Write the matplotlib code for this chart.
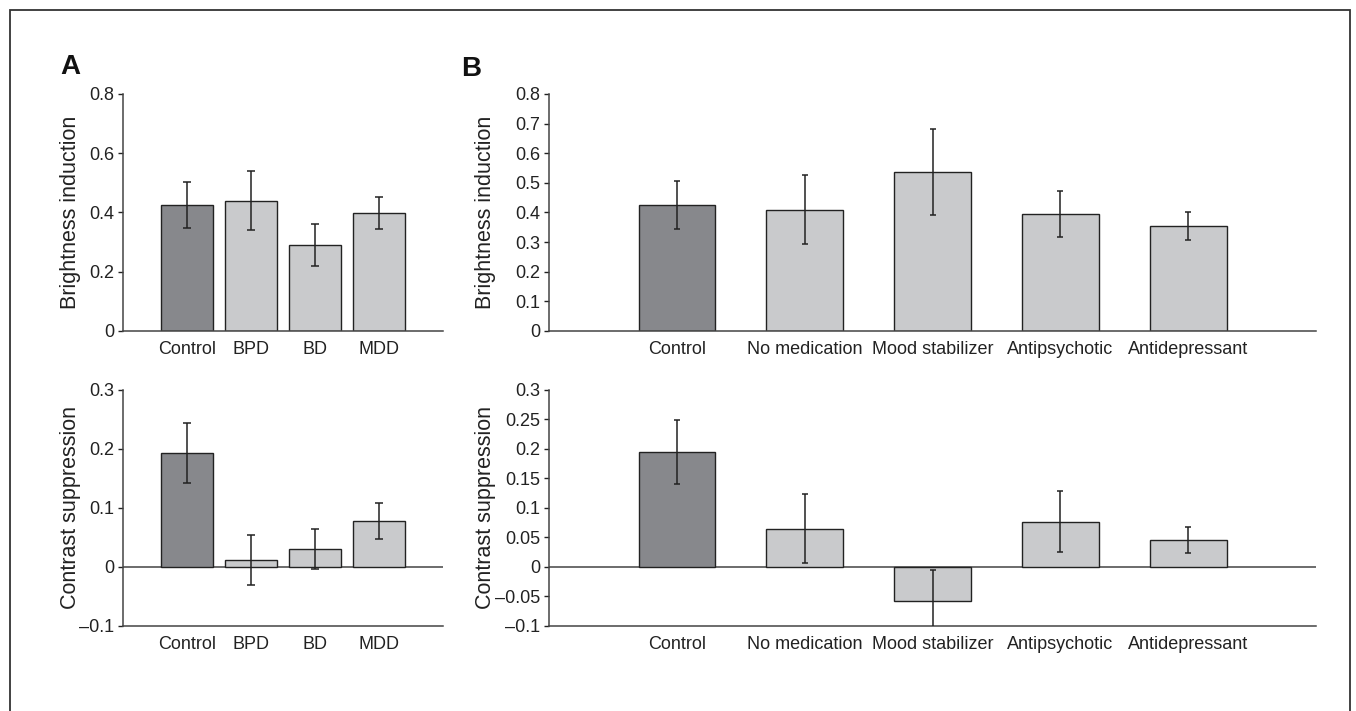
import numpy as np
import matplotlib.pyplot as plt
from matplotlib.patches import Rectangle

plt.rcParams["font.family"] = ["Liberation Sans", "DejaVu Sans"]

groups_a = ["Control", "BPD", "BD", "MDD"]
bright_a = [0.425, 0.44, 0.29, 0.398]
bright_a_err = [0.078, 0.10, 0.07, 0.053]
contrast_a = [0.193, 0.012, 0.031, 0.078]
contrast_a_err = [0.051, 0.042, 0.034, 0.030]

groups_b = ["Control", "No medication", "Mood stabilizer", "Antipsychotic", "Antidepressant"]
bright_b = [0.425, 0.41, 0.538, 0.396, 0.354]
bright_b_err = [0.080, 0.115, 0.145, 0.078, 0.047]
contrast_b = [0.195, 0.065, -0.057, 0.077, 0.046]
contrast_b_err = [0.054, 0.059, 0.051, 0.052, 0.022]

dark = "#87888c"
light = "#c9cacc"
ink = "#222222"


def draw_panel(ax, names, vals, errs, width, capsize, yticks, ylabels, ylim, ylab, zero_line, label_x):
    x = np.arange(len(names))
    colors = [dark] + [light] * (len(names) - 1)
    ax.bar(x, vals, width=width, color=colors, edgecolor=ink, linewidth=1.0, zorder=2)
    ax.errorbar(x, vals, yerr=errs, fmt="none", ecolor=ink, elinewidth=1.1,
                capsize=capsize, capthick=1.1, zorder=3)
    if zero_line:
        ax.axhline(0, color="#444444", linewidth=1.1, zorder=1)
    ax.set_xlim(-1, len(names))
    ax.set_ylim(*ylim)
    ax.set_yticks(yticks)
    ax.set_yticklabels(ylabels)
    ax.set_xticks(x)
    ax.set_xticklabels(names)
    ax.tick_params(axis="x", length=0, pad=7, labelsize=13, colors=ink)
    ax.tick_params(axis="y", length=3.5, width=1.0, pad=3, labelsize=13, colors=ink)
    for s in ["top", "right"]:
        ax.spines[s].set_visible(False)
    for s in ["left", "bottom"]:
        ax.spines[s].set_color("#444444")
        ax.spines[s].set_linewidth(1.1)
    ax.set_ylabel(ylab, fontsize=15.5, color=ink)
    ax.yaxis.label.set_va("center")
    ax.yaxis.set_label_coords(label_x, 0.5)


fig = plt.figure(figsize=(13.56, 7.11), dpi=100)

ax1 = fig.add_axes([0.0907, 0.5345, 0.236, 0.3333])
ax2 = fig.add_axes([0.0907, 0.1196, 0.236, 0.332])
ax3 = fig.add_axes([0.4049, 0.5345, 0.5656, 0.3333])
ax4 = fig.add_axes([0.4049, 0.1196, 0.5656, 0.332])

draw_panel(ax1, groups_a, bright_a, bright_a_err, 0.8, 3,
           [0, 0.2, 0.4, 0.6, 0.8], ["0", "0.2", "0.4", "0.6", "0.8"],
           (0, 0.8), "Brightness induction", False, -0.1625)
draw_panel(ax2, groups_a, contrast_a, contrast_a_err, 0.8, 3,
           [-0.1, 0, 0.1, 0.2, 0.3], ["\u20130.1", "0", "0.1", "0.2", "0.3"],
           (-0.1, 0.3), "Contrast suppression", True, -0.1625)
draw_panel(ax3, groups_b, bright_b, bright_b_err, 0.6, 2.2,
           [0, 0.1, 0.2, 0.3, 0.4, 0.5, 0.6, 0.7, 0.8],
           ["0", "0.1", "0.2", "0.3", "0.4", "0.5", "0.6", "0.7", "0.8"],
           (0, 0.8), "Brightness induction", False, -0.0834)
draw_panel(ax4, groups_b, contrast_b, contrast_b_err, 0.6, 2.2,
           [-0.1, -0.05, 0, 0.05, 0.1, 0.15, 0.2, 0.25, 0.3],
           ["\u20130.1", "\u20130.05", "0", "0.05", "0.1", "0.15", "0.2", "0.25", "0.3"],
           (-0.1, 0.3), "Contrast suppression", True, -0.0834)

fig.text(60 / 1356, 1 - 67 / 711, "A", fontsize=20, fontweight="bold", va="center", ha="left", color="#111111")
fig.text(461 / 1356, 1 - 69 / 711, "B", fontsize=20, fontweight="bold", va="center", ha="left", color="#111111")

# outer frame, open at the bottom edge
fig.patches.append(Rectangle((10 / 1356, -0.05), 1340 / 1356, 1.05 - 10 / 711,
                             transform=fig.transFigure, fill=False,
                             edgecolor="#333333", linewidth=1.3))

fig.savefig("out.png", dpi=100)
